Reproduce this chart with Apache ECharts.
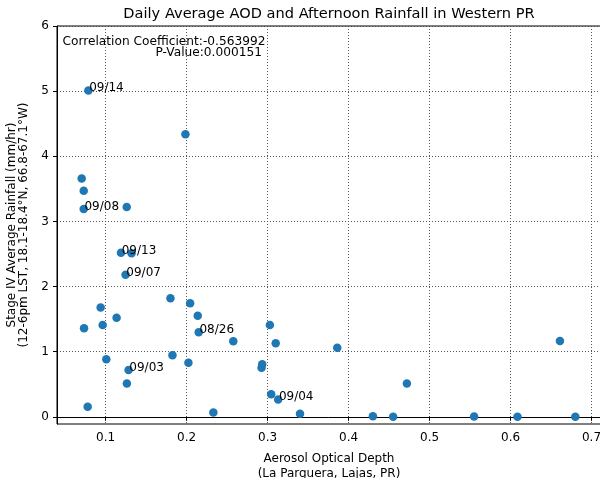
<!DOCTYPE html>
<html>
<head>
<meta charset="utf-8">
<script src="https://cdn.jsdelivr.net/npm/echarts@6/dist/echarts.min.js"></script>
<style>
  html, body { margin: 0; padding: 0; background: #fff; }
  #chart { width: 600px; height: 478px; }
</style>
</head>
<body>
<div id="chart"></div>
<script>
// values
const aod = [
  0.0787, 0.1985, 0.0704, 0.0729, 0.0729, 0.126, 0.1189, 0.132, 0.1246, 0.180,
  0.2043, 0.2137, 0.2149, 0.0938, 0.1135, 0.0733, 0.0963, 0.2576, 0.3028, 0.310,
  0.1008, 0.1825, 0.2022, 0.1283, 0.1262, 0.2933, 0.2925, 0.3044, 0.313, 0.0778,
  0.233, 0.340, 0.386, 0.472, 0.661, 0.430, 0.455, 0.555, 0.6086, 0.680
];
const rain = [
  5.01, 4.34, 3.66, 3.47, 3.19, 3.22, 2.52, 2.51, 2.18, 1.82,
  1.745, 1.55, 1.30, 1.68, 1.52, 1.36, 1.41, 1.16, 1.41, 1.13,
  0.883, 0.944, 0.83, 0.72, 0.51, 0.806, 0.754, 0.345, 0.267, 0.154,
  0.068, 0.046, 1.06, 0.51, 1.165, 0.01, 0.0, 0.005, 0.0, 0.0
];
const dates = [
  '09/14', '', '', '', '09/08', '', '09/13', '', '09/07', '',
  '', '', '08/26', '', '', '', '', '', '', '',
  '', '', '', '09/03', '', '', '', '', '09/04', '',
  '', '', '', '', '', '', '', '', '', ''
];
const xTicks = [0.1, 0.2, 0.3, 0.4, 0.5, 0.6, 0.7];
const yTicks = [0, 1, 2, 3, 4, 5, 6];

const font = 'DejaVu Sans';
const chart = echarts.init(document.getElementById('chart'), null, { renderer: 'canvas' });

const gridLine = { show: true, lineStyle: { color: '#444', type: [1, 2], width: 0.9 } };

chart.setOption({
  animation: false,
  textStyle: { fontFamily: font },
  grid: {
    left: 57, top: 26, right: -1, bottom: 54,
    outerBoundsMode: 'none', containLabel: false,
    show: true, borderColor: '#000', borderWidth: 1, backgroundColor: 'transparent'
  },
  graphic: [
    {
      type: 'text', x: 329, y: 14,
      style: {
        text: 'Daily Average AOD and Afternoon Rainfall in Western PR',
        font: '14.6px "DejaVu Sans"', fill: '#000', align: 'center', verticalAlign: 'middle'
      }
    },
    {
      type: 'text', x: 265.5, y: 42, z: 10,
      style: {
        text: 'Correlation Coefficient:-0.563992',
        font: '12.2px "DejaVu Sans"', fill: '#000', align: 'right', verticalAlign: 'middle'
      }
    },
    {
      type: 'text', x: 262, y: 53, z: 10,
      style: {
        text: 'P-Value:0.000151',
        font: '12.2px "DejaVu Sans"', fill: '#000', align: 'right', verticalAlign: 'middle'
      }
    }
  ],
  xAxis: {
    type: 'value',
    min: 0.0399, max: 0.7117,
    name: 'Aerosol Optical Depth\n(La Parguera, Lajas, PR)',
    nameLocation: 'middle', nameGap: 27,
    nameTextStyle: { fontSize: 12, color: '#000', lineHeight: 15 },
    axisLine: { show: true, lineStyle: { color: '#000', width: 1 } },
    axisTick: { show: true, length: 4, lineStyle: { color: '#000' }, customValues: xTicks },
    axisLabel: {
      fontSize: 12, color: '#000', margin: 8, customValues: xTicks,
      formatter: v => v.toFixed(1)
    },
    splitLine: gridLine
  },
  yAxis: {
    type: 'value',
    min: -0.11, max: 6,
    name: 'Stage IV Average Rainfall (mm/hr)\n(12-6pm LST, 18.1-18.4°N, 66.8-67.1°W)',
    nameLocation: 'middle', nameGap: 15,
    nameTextStyle: { fontSize: 12, color: '#000', lineHeight: 12.5 },
    axisLine: { show: true, lineStyle: { color: '#000', width: 1 } },
    axisTick: { show: true, length: 4, lineStyle: { color: '#000' }, customValues: yTicks },
    axisLabel: {
      fontSize: 12, color: '#000', margin: 8, customValues: yTicks,
      formatter: v => String(v)
    },
    splitLine: gridLine
  },
  series: [
    {
      type: 'scatter',
      symbol: 'circle',
      symbolSize: 8.5,
      itemStyle: { color: '#1f77b4', opacity: 1 },
      data: aod.map((x, i) => ({
        value: [x, rain[i]],
        label: {
          show: dates[i] !== '',
          formatter: dates[i],
          position: [5, 8],
          align: 'left',
          verticalAlign: 'bottom',
          fontSize: 12,
          color: '#000',
          fontFamily: font
        }
      }))
    }
  ]
});
</script>
</body>
</html>
